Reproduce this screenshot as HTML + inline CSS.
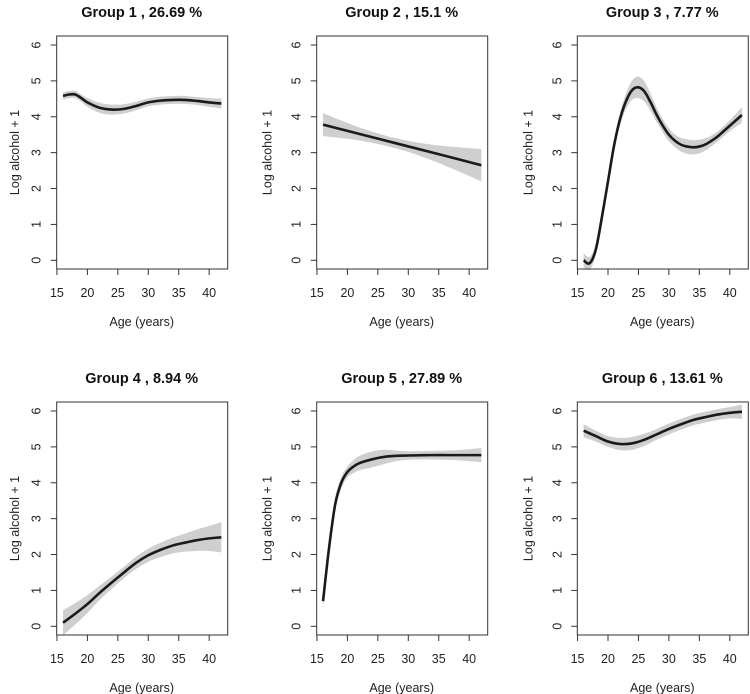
<!DOCTYPE html>
<html><head><meta charset="utf-8"><style>
body{margin:0;background:#fff}
svg{display:block;font-family:"Liberation Sans",Arial,sans-serif}
</style></head><body>
<svg id="chart" width="750" height="694" viewBox="0 0 750 694"></svg>
<script>
const titles=["Group 1 , 26.69 %","Group 2 , 15.1 %","Group 3 , 7.77 %","Group 4 , 8.94 %","Group 5 , 27.89 %","Group 6 , 13.61 %"];
const xTicks=[15,20,25,30,35,40];
const yTicks=[0,1,2,3,4,5,6];
const ages1=[16,17,18,19,20,22,24,26,28,30,32,34,36,38,40,42];
const fit1=[4.58,4.62,4.62,4.52,4.4,4.25,4.2,4.22,4.3,4.4,4.45,4.47,4.47,4.44,4.4,4.37];
const se1=[0.1,0.1,0.1,0.1,0.12,0.14,0.14,0.13,0.12,0.11,0.11,0.11,0.11,0.11,0.12,0.14];
const ages2=[16,22,28,34,42];
const fit2=[3.78,3.52,3.26,3.0,2.65];
const se2=[0.32,0.18,0.14,0.22,0.45];
const ages3=[16,17,18,19,20,21,22,23,24,25,26,27,28,29,30,31,32,33,34,35,36,37,38,39,40,41,42];
const fit3=[0,-0.08,0.3,1.2,2.2,3.2,3.95,4.45,4.75,4.82,4.7,4.4,4.05,3.75,3.5,3.33,3.22,3.17,3.15,3.17,3.23,3.33,3.45,3.6,3.75,3.9,4.05];
const se3=[0.2,0.18,0.15,0.14,0.14,0.15,0.18,0.22,0.27,0.3,0.28,0.24,0.2,0.18,0.18,0.18,0.19,0.2,0.2,0.19,0.17,0.15,0.14,0.14,0.15,0.18,0.22];
const ages4=[16,18,20,22,24,26,28,30,32,34,36,38,40,42];
const fit4=[0.1,0.35,0.62,0.93,1.22,1.5,1.77,1.98,2.13,2.25,2.33,2.4,2.45,2.48];
const se4=[0.35,0.3,0.25,0.2,0.17,0.16,0.17,0.18,0.2,0.22,0.25,0.3,0.35,0.42];
const ages5=[16,17,18,19,20,21,22,24,26,28,30,34,38,42];
const fit5=[0.7,2.2,3.4,4.0,4.3,4.45,4.55,4.65,4.72,4.75,4.76,4.77,4.77,4.77];
const se5=[0.22,0.2,0.18,0.16,0.15,0.18,0.2,0.22,0.2,0.15,0.12,0.12,0.14,0.2];
const ages6=[16,18,20,22,24,26,28,30,32,34,36,38,40,42];
const fit6=[5.45,5.3,5.15,5.08,5.1,5.2,5.35,5.5,5.63,5.75,5.83,5.9,5.95,5.98];
const se6=[0.18,0.15,0.15,0.17,0.18,0.17,0.15,0.15,0.15,0.15,0.15,0.15,0.16,0.2];
const groups=[[ages1,fit1,se1],[ages2,fit2,se2],[ages3,fit3,se3],[ages4,fit4,se4],[ages5,fit5,se5],[ages6,fit6,se6]];

const NS="http://www.w3.org/2000/svg";
const svg=document.getElementById('chart');
function mk(tag,attrs,parent){const e=document.createElementNS(NS,tag);for(const k in attrs)e.setAttribute(k,attrs[k]);(parent||svg).appendChild(e);return e;}
function smooth(pts){
  if(pts.length<3)return "M"+pts.map(p=>p[0]+","+p[1]).join("L");
  let d="M"+pts[0][0]+","+pts[0][1];
  for(let i=0;i<pts.length-1;i++){
    const p0=pts[Math.max(0,i-1)],p1=pts[i],p2=pts[i+1],p3=pts[Math.min(pts.length-1,i+2)];
    const c1=[p1[0]+(p2[0]-p0[0])/6,p1[1]+(p2[1]-p0[1])/6];
    const c2=[p2[0]-(p3[0]-p1[0])/6,p2[1]-(p3[1]-p1[1])/6];
    d+="C"+c1+" "+c2+" "+p2;
  }
  return d;
}
const colL=[56.7,316.7,577.3], rowT=[36,402], W=171, H=233;
groups.forEach((g,i)=>{
  const L=colL[i%3], T=rowT[Math.floor(i/3)], B=T+H;
  const xs=v=>L+(v-14.96)/(43.04-14.96)*W;
  const ys=v=>T+9+(6-v)*(215.3/6);
  const pg=mk('g',{});
  
  
  const [ag,ft,se]=g;
  const up=ag.map((a,k)=>[xs(a),ys(ft[k]+se[k])]);
  const lo=ag.map((a,k)=>[xs(a),ys(ft[k]-se[k])]).reverse();
  const band=mk('path',{d:smooth(up)+smooth(lo).replace("M","L")+"Z",fill:"#cfcfcf",stroke:"none"},pg);
  
  
  const line=mk('path',{d:smooth(ag.map((a,k)=>[xs(a),ys(ft[k])])),fill:"none",stroke:"#1a1a1a","stroke-width":2.6},pg);
  
  
  const box=mk('rect',{x:L,y:T,width:W,height:H,fill:"none",stroke:"#333","stroke-width":1},pg);
  
  
  const t=mk('text',{x:L+85,y:T-19,"text-anchor":"middle","font-size":14.5,"font-weight":"bold",fill:"#111"},pg);
  t.textContent=titles[i];
  
  
  xTicks.forEach(v=>{
    mk('line',{x1:xs(v),x2:xs(v),y1:B,y2:B+6,stroke:"#333"},pg);
    const tx=mk('text',{x:xs(v),y:B+28,"text-anchor":"middle","font-size":12.5,fill:"#222"},pg);
    tx.textContent=v;
    
    
  });
  mk('line',{x1:xs(15),x2:xs(40),y1:B,y2:B,stroke:"#333"},pg);
  yTicks.forEach(v=>{
    mk('line',{x1:L,x2:L-6,y1:ys(v),y2:ys(v),stroke:"#333"},pg);
    const ty=mk('text',{x:L-16,y:ys(v),"text-anchor":"middle","font-size":12.5,fill:"#222",transform:`rotate(-90 ${L-16} ${ys(v)})`},pg);
    ty.textContent=v;
    
    
  });
  const xt=mk('text',{x:L+85,y:B+57,"text-anchor":"middle","font-size":12.5,fill:"#222"},pg);
  xt.textContent="Age (years)";
  
  
  const yx=i%3===0?19:L-45, yy=T+H/2;
  const yt=mk('text',{x:yx,y:yy,"text-anchor":"middle","font-size":12.5,fill:"#222",transform:`rotate(-90 ${yx} ${yy})`},pg);
  yt.textContent="Log alcohol + 1";
  
  
});
</script>
</body></html>
